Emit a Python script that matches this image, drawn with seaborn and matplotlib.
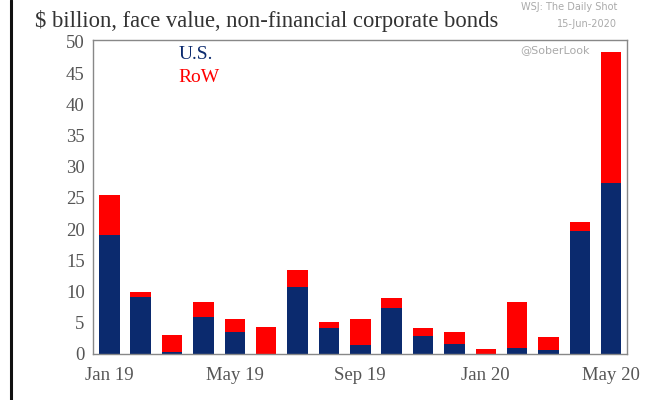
import matplotlib
matplotlib.use("Agg")
import matplotlib.pyplot as plt
import seaborn as sns
import pandas as pd

# Monthly issuance, $ billion (face value), non-financial corporate bonds
months = ["Jan 19", "Feb 19", "Mar 19", "Apr 19", "May 19", "Jun 19", "Jul 19",
          "Aug 19", "Sep 19", "Oct 19", "Nov 19", "Dec 19", "Jan 20", "Feb 20",
          "Mar 20", "Apr 20", "May 20"]
us = [19.1, 9.2, 0.4, 6.0, 3.5, 0.0, 10.8, 4.1, 1.4, 7.4, 2.9, 1.6, 0.0, 0.9,
      0.6, 19.7, 27.4]
row = [6.4, 0.8, 2.7, 2.3, 2.1, 4.3, 2.6, 1.0, 4.2, 1.5, 1.2, 2.0, 0.75, 7.5,
       2.1, 1.5, 20.9]
tick_labels = ["Jan 19", "May 19", "Sep 19", "Jan 20", "May 20"]
yticks = [0, 5, 10, 15, 20, 25, 30, 35, 40, 45, 50]

NAVY = "#0b2a6e"
RED = "#ff0000"
GRAY_TXT = "#555555"

df = pd.DataFrame({"month": months, "us": us, "row": row})
df["total"] = df["us"] + df["row"]

sns.set_style("white")
plt.rcParams["font.family"] = ["Liberation Serif", "DejaVu Serif"]

fig = plt.figure(figsize=(6.54, 4.0), dpi=100)
ax = fig.add_axes([0.1422, 0.115, 0.8165, 0.785])

# Stacked bars: the full total in red, U.S. share drawn over it in navy
sns.barplot(data=df, x="month", y="total", color=RED, width=0.65,
            saturation=1, linewidth=0, ax=ax, order=months)
sns.barplot(data=df, x="month", y="us", color=NAVY, width=0.65,
            saturation=1, linewidth=0, ax=ax, order=months)

ax.set_ylim(0, 50.3)
ax.set_xlim(-0.52, 16.5)
ax.set_yticks(yticks)
ax.set_yticklabels([str(v) for v in yticks], fontsize=13.5, color=GRAY_TXT)
pos = [months.index(m) for m in tick_labels]
ax.set_xticks(pos)
ax.set_xticklabels(tick_labels, fontsize=13.5, color=GRAY_TXT)
ax.tick_params(axis="both", length=0, pad=6)
ax.tick_params(axis="x", pad=9)
ax.set_xlabel("")
ax.set_ylabel("")
for s in ax.spines.values():
    s.set_visible(True)
    s.set_color("#888888")
    s.set_linewidth(1.0)

# Legend as coloured text
ax.text(0.16, 0.955, "U.S.", transform=ax.transAxes, color=NAVY,
        fontsize=14, ha="left", va="center")
ax.text(0.16, 0.88, "RoW", transform=ax.transAxes, color=RED,
        fontsize=14, ha="left", va="center")

# Title and credits
fig.text(0.053, 0.948, "$ billion, face value, non-financial corporate bonds",
         fontsize=16.3, color="#333333", ha="left", va="center")
fig.text(0.944, 0.982, "WSJ: The Daily Shot", fontsize=7, color="#aaaaaa",
         ha="right", va="center", family="DejaVu Sans")
fig.text(0.944, 0.94, "15-Jun-2020", fontsize=7, color="#aaaaaa",
         ha="right", va="center", family="DejaVu Sans")
ax.text(0.93, 0.985, "@SoberLook", transform=ax.transAxes, fontsize=8,
        color="#aaaaaa", ha="right", va="top", family="DejaVu Sans")

# Dark rule down the left edge of the panel
fig.add_artist(plt.Line2D([0.017, 0.017], [0, 1], transform=fig.transFigure,
                          color="#111111", linewidth=2.2))

fig.savefig("out.png", dpi=100)
